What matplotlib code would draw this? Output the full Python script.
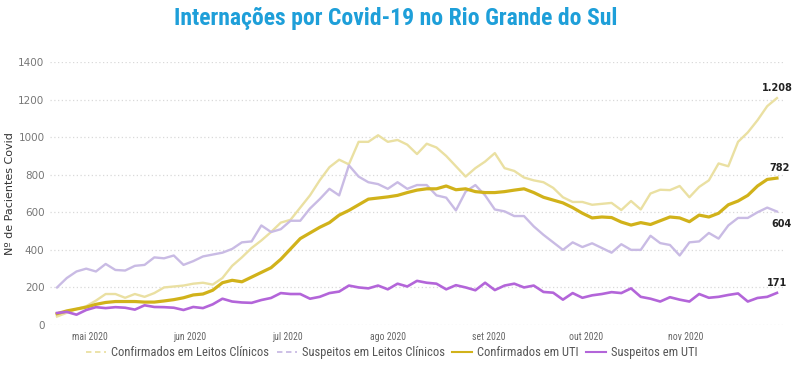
import numpy as np
import pandas as pd
import matplotlib
matplotlib.use("Agg")
import matplotlib.pyplot as plt
from matplotlib.lines import Line2D
from matplotlib import font_manager

# dados, um ponto a cada 3 dias (21/04 a 29/11/2020)
datas = pd.date_range("2020-04-21", periods=75, freq="3D")

confirmados_clinicos = [
    45, 65, 85, 100, 130, 165, 165, 145, 165, 150,
    170, 200, 205, 210, 220, 225, 215, 250, 315, 360,
    410, 450, 495, 545, 560, 625, 690, 770, 840, 880,
    855, 975, 975, 1010, 975, 985, 960, 910, 965, 945,
    900, 845, 790, 835, 870, 915, 835, 820, 785, 770,
    760, 730, 680, 655, 655, 640, 645, 650, 612, 660,
    615, 700, 720, 718, 740, 680, 735, 770, 860, 845,
    975, 1025, 1090, 1165, 1208]

suspeitos_clinicos = [
    200, 250, 285, 300, 285, 325, 293, 290, 315, 320,
    360, 355, 370, 320, 340, 365, 375, 385, 405, 440,
    445, 530, 495, 510, 555, 555, 620, 670, 725, 690,
    850, 790, 760, 750, 725, 760, 725, 745, 745, 690,
    678, 610, 710, 745, 690, 615, 605, 580, 580, 525,
    480, 440, 400, 440, 415, 435, 410, 385, 430, 400,
    400, 475, 436, 426, 370, 440, 445, 490, 460, 530,
    570, 570, 600, 625, 604]

confirmados_uti = [
    60, 75, 85, 95, 110, 120, 125, 125, 125, 122,
    122, 128, 135, 145, 160, 165, 185, 225, 238, 230,
    255, 280, 305, 350, 405, 460, 490, 520, 545, 585,
    610, 640, 670, 676, 682, 690, 705, 718, 725, 725,
    740, 720, 725, 710, 705, 705, 710, 718, 725, 705,
    680, 665, 650, 625, 595, 570, 575, 572, 548, 532,
    545, 535, 555, 575, 570, 550, 585, 575, 595, 640,
    660, 690, 740, 775, 782]

suspeitos_uti = [
    64, 70, 55, 80, 95, 90, 95, 92, 82, 105,
    96, 95, 92, 80, 96, 90, 110, 140, 125, 120,
    118, 133, 144, 170, 165, 165, 140, 150, 170, 178,
    210, 200, 195, 210, 190, 220, 205, 235, 225, 220,
    190, 212, 200, 185, 225, 186, 210, 220, 200, 210,
    176, 172, 135, 170, 145, 158, 165, 175, 170, 195,
    150, 140, 125, 148, 135, 125, 165, 145, 150, 160,
    168, 125, 144, 150, 171]

rotulos_legenda = ["Confirmados em Leitos Clínicos", "Suspeitos em Leitos Clínicos",
                   "Confirmados em UTI", "Suspeitos em UTI"]
meses = ["mai 2020", "jun 2020", "jul 2020", "ago 2020", "set 2020", "out 2020", "nov 2020"]

# fonte mais estreita, se houver
nomes = {f.name for f in font_manager.fontManager.ttflist}
estreitas = [n for n in ["Roboto Condensed", "Liberation Sans Narrow", "Roboto"] if n in nomes]
fonte_cond = estreitas[0] if estreitas else "DejaVu Sans"
plt.rcParams["font.family"] = ["DejaVu Sans"]

cores = ["#EAE0A2", "#C9BBE4", "#D1B21A", "#B365D9"]
larguras = [1.7, 1.7, 2.3, 1.9]

fig = plt.figure(figsize=(8, 3.69), dpi=100)
ax = fig.add_axes([0.0625, 0.1192, 0.9185, 0.7128])

series = [confirmados_clinicos, suspeitos_clinicos, confirmados_uti, suspeitos_uti]
for valores, cor, lw in zip(series, cores, larguras):
    ax.plot(datas, valores, color=cor, lw=lw, solid_joinstyle="round")

ax.set_ylim(0, 1400)
ax.set_xlim(pd.Timestamp("2020-04-18 20:00"), pd.Timestamp("2020-12-01 10:00"))
ax.set_yticks(range(0, 1401, 200))
ax.yaxis.grid(True, color="#d9d9d9", linestyle=(0, (1, 2)), lw=0.9)
ax.set_axisbelow(True)
for s in ax.spines.values():
    s.set_visible(False)
ax.tick_params(axis="both", length=0)
ax.tick_params(axis="y", labelsize=7.5, labelcolor="#777777", pad=4)

pos_meses = pd.date_range("2020-05-01", periods=7, freq="MS")
ax.set_xticks(pos_meses)
ax.set_xticklabels(meses, fontsize=7, color="#666666", family=[fonte_cond, "DejaVu Sans"])
ax.tick_params(axis="x", pad=5)

ax.set_ylabel("Nº de Pacientes Covid", fontsize=8, color="#333333")
ax.yaxis.set_label_coords(-0.048, 0.5)

# rótulos do último valor
for valores, (dx, dy) in zip(series, [(0, 7), (3, -9), (2, 7), (0, 7)]):
    v = valores[-1]
    txt = f"{v:,}".replace(",", ".")
    ax.annotate(txt, (datas[-1], v), xytext=(dx, dy), textcoords="offset points",
                ha="center", va="center", fontsize=7, fontweight="bold", color="#222222")

fig.suptitle("Internações por Covid-19 no Rio Grande do Sul", x=0.494, y=0.98,
             fontsize=17, fontweight="bold", color="#1E9FD9",
             family=[fonte_cond, "DejaVu Sans"])

handles = [
    Line2D([], [], color=cores[0], lw=1.3, linestyle=(0, (3, 2))),
    Line2D([], [], color=cores[1], lw=1.3, linestyle=(0, (3, 2))),
    Line2D([], [], color=cores[2], lw=1.5),
    Line2D([], [], color=cores[3], lw=1.5),
]
fig.legend(handles, rotulos_legenda, loc="center", bbox_to_anchor=(0.49, 0.045), ncol=4,
           frameon=False, handlelength=1.6, handletextpad=0.4, columnspacing=0.6,
           prop={"family": [fonte_cond, "DejaVu Sans"], "size": 9}, labelcolor="#555555")

fig.savefig("out.png", dpi=100)
